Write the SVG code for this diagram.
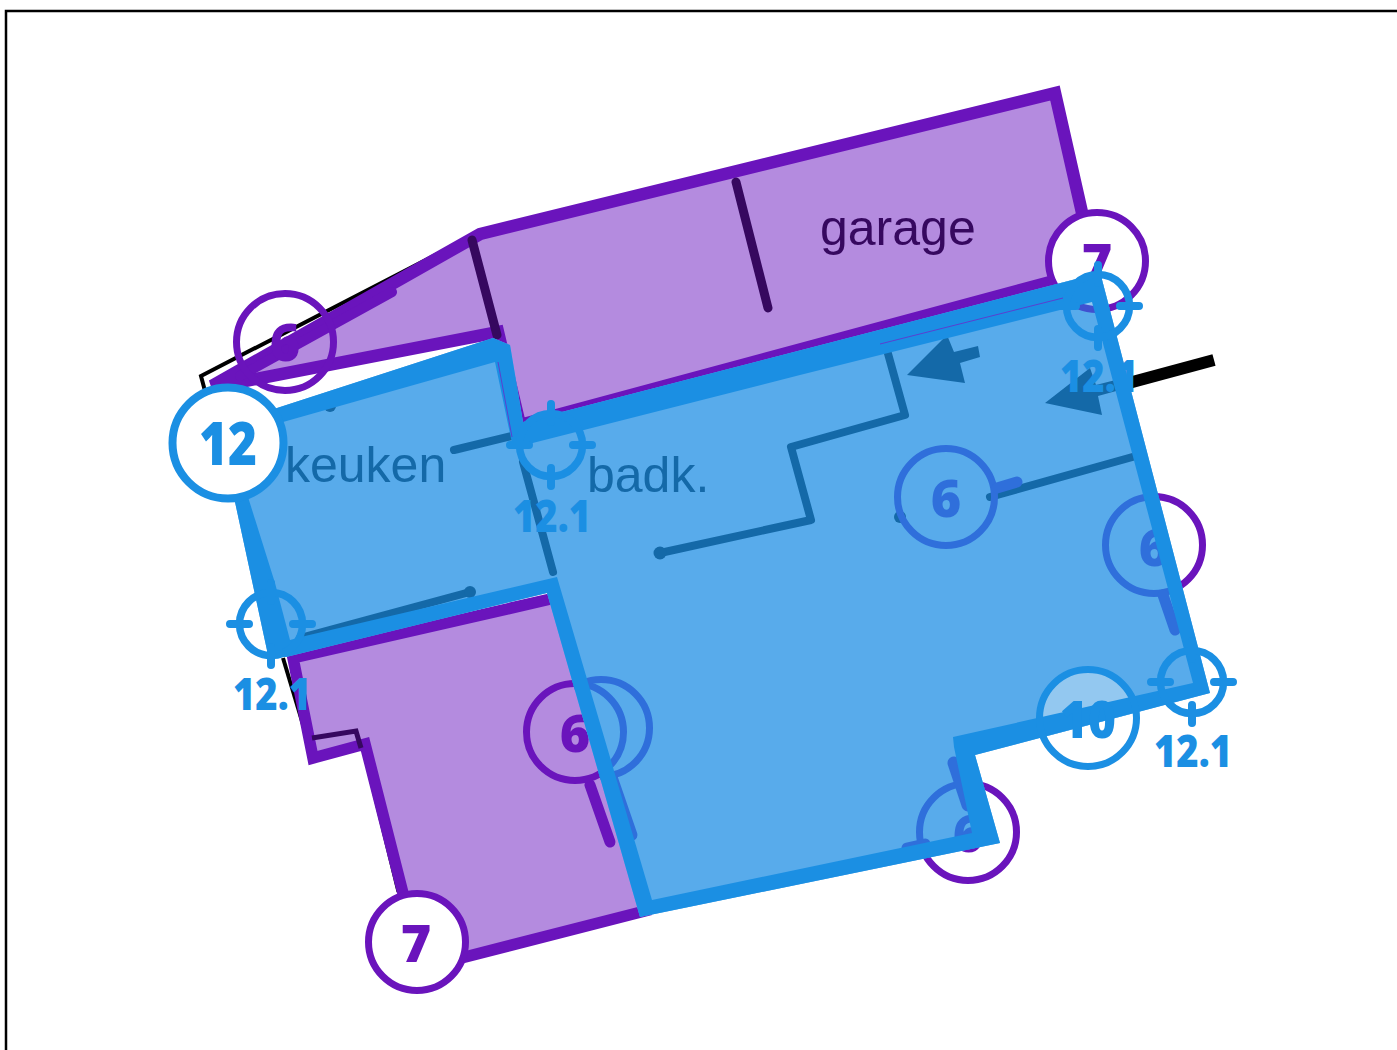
<svg xmlns="http://www.w3.org/2000/svg" width="1397" height="1050" viewBox="0 0 1397 1050">
<style>
.num{font-family:"Open Sans","Noto Sans",sans-serif;font-weight:800;text-anchor:middle}
.n6{font-size:52px}
.n121{font-size:45px;fill:#1b8fe3}
.lbl{font-family:"Liberation Sans",Arial,sans-serif;font-size:50px}
.ring{stroke-width:7;fill:none}
.pu{stroke:#6a14bc}.bl{stroke:#2f6fdb}
.puf{fill:#6a14bc}.blf{fill:#2f6fdb}
.wall{fill:none;stroke:#1469a8;stroke-width:8;stroke-linecap:round;stroke-linejoin:round}
.dwall{fill:none;stroke:#36085f;stroke-width:9;stroke-linecap:round;stroke-linejoin:round}
.stub{fill:none;stroke-width:11;stroke-linecap:round}
.cross{fill:none;stroke:#1b8fe3;stroke-width:7.5}
.cross path{stroke-linecap:round;stroke-width:8}
</style>
<defs>
<g id="crosshair" class="cross">
<circle r="31.5"/>
<path d="M0-41V-23M0 23V41M-41 0H-22M22 0H41"/>
</g>
<clipPath id="inBlue"><path d="M250,417 L277,408 L493,338 L510,345 L523,422 L1080,278 L1100,272 L1210,693 L975,755 L1000,843 L640,917 L547,593 L286,657 L268,655 L235,502 L225,470 Z"/></clipPath>
</defs>
<rect id="frame" x="6" y="11" width="1500" height="1100" fill="#fff" stroke="#000" stroke-width="2.5"/>

<g id="black-base" fill="none" stroke="#000">
<path d="M205,391 L201,376 L480,232" stroke-width="4"/>
<path d="M283,658 L307,738" stroke-width="4"/>
<path d="M362,745 L398,892" stroke-width="3"/>
<path d="M1125,384 L1214,360" stroke-width="12"/>
</g>

<g id="purple-areas" fill="#b48bdf" stroke="#6a14bc" stroke-width="12.5">
<path id="garage-area" d="M212,386 L480,234 L1055,93 L1095,270 L520,425 L498,332 L240,382 Z"/>
<path id="lower-area" d="M293,658 L555,598 L645,911 L422,968 L365,744 L313,758 Z" stroke-width="11.5"/>
</g>
<g id="purple-walls">
<path class="dwall" d="M736,182 L768,308"/>
<path class="dwall" d="M472,240 L497,335"/>
<path d="M312,738 L356,731 L361,748" fill="none" stroke="#36085f" stroke-width="5"/>
<path class="stub pu" d="M240,376 L392,292" style="stroke-width:10"/>
<path class="stub pu" d="M590,785 L610,842"/>
</g>
<g id="label-garage"><text class="lbl" x="820" y="245" fill="#36085f">garage</text></g>

<g id="purple-tags">
<circle class="ring pu" cx="285" cy="342" r="48.5"/>
<text class="num n6 puf" x="285" y="361">6</text>
<circle class="ring pu" cx="575" cy="732" r="48.5"/>
<text class="num n6 puf" x="575" y="752">6</text>
<circle class="ring pu" cx="1154" cy="545" r="48.5"/>
<circle class="ring pu" cx="968" cy="832" r="48.5"/>
<text class="num n6 puf" x="968" y="852">6</text>
<circle class="ring pu" cx="1097" cy="261" r="48.5" style="fill:#fff"/>
<text class="num n6 puf" x="1097" y="281">7</text>
</g>

<circle cx="1088" cy="718" r="49" fill="#fff"/>

<path id="blue-area" d="M250,417 L277,408 L493,338 L510,345 L523,422 L1080,278 L1100,272 L1210,693 L975,755 L1000,843 L640,917 L547,593 L286,657 L268,655 L235,502 L225,470 Z" fill="#58abeb"/>

<g id="inside-blue" clip-path="url(#inBlue)">
<circle cx="1097" cy="261" r="48.5" fill="#93c8f0" stroke="#4050d0" stroke-width="7"/>
<circle cx="1088" cy="718" r="49" fill="#93c8f0"/>
<path class="wall" d="M887,350 L905,415 L791,447 L811,520 L660,553"/>
<circle cx="660" cy="553" r="6.5" fill="#1469a8"/>
<path class="wall" d="M1136,456 L990,497"/>
<circle cx="900" cy="517" r="6" fill="#1469a8"/>
<path class="wall" d="M454,450 L520,434"/>
<path class="wall" d="M523,462 L553,572"/>
<path class="wall" d="M300,638 L470,592"/>
<circle cx="470" cy="592" r="6" fill="#1469a8"/>
<circle cx="330" cy="406" r="6" fill="#1469a8"/>
<path fill="#1469a8" d="M907,375 L947,335 L954,352 L978,346 L980,357 L960,363 L965,383 Z"/>
<path fill="#1469a8" d="M1045,403 L1090,368 L1096,385 L1135,375 L1138,385 L1098,396 L1102,415 Z"/>
<circle class="ring bl" cx="575" cy="732" r="48.5"/>
<circle class="ring bl" cx="601" cy="728" r="48.5"/>
<circle class="ring bl" cx="1154" cy="545" r="48.5"/>
<text class="num n6 blf" x="1154" y="566">6</text>
<circle class="ring bl" cx="968" cy="832" r="48.5"/>
<text class="num n6 blf" x="968" y="852">6</text>
<path class="stub bl" d="M612,777 L632,835"/>
<path class="stub bl" d="M1163,595 L1175,630"/>
<path class="stub bl" d="M954,763 L968,805" style="stroke-width:13"/>
<path class="stub bl" d="M907,848 L925,844"/>
</g>

<g id="node-6-centre">
<circle class="ring bl" cx="946" cy="497" r="48.5"/>
<text class="num n6 blf" x="946" y="517">6</text>
<path class="stub bl" d="M997,488 L1017,482"/>
</g>
<g id="labels-blue" fill="#1469a8">
<text class="lbl" x="285" y="482">keuken</text>
<text class="lbl" x="587" y="492">badk.</text>
</g>

<path id="blue-outline" fill="#1b8fe3" fill-rule="evenodd" d="M250,417 L277,408 L493,338 L510,345 L523,422 L1080,278 L1100,272 L1210,693 L975,755 L1000,843 L640,917 L547,593 L286,657 L268,655 L235,502 L225,470 Z M245,470 L283,422 L495,362 L513,448 L800,375 L1092,302 L1193,683 L953,737 L954,747 L972,833 L652,900 L557,577 L305,636 L290,640 L275,583 L248,497 Z"/>
<g id="thin-traces" fill="none" stroke="#5a40d0" stroke-width="1">
<path d="M880,344 L1063,298"/>
<path d="M498,362 L512,437"/>
</g>

<g id="node-10">
<circle cx="1088" cy="718" r="48.5" fill="none" stroke="#1b8fe3" stroke-width="7"/>
<text class="num" x="1088" y="738" font-size="52" fill="#1b8fe3" textLength="56" lengthAdjust="spacingAndGlyphs">10</text>
</g>

<g id="node-7-bottom">
<circle cx="417" cy="942" r="48.5" fill="#fff" stroke="#6a14bc" stroke-width="7"/>
<text class="num n6 puf" x="416" y="962">7</text>
</g>

<g id="crosshair-1"><use href="#crosshair" x="551" y="445"/><text class="num n121" x="552" y="532" textLength="78" lengthAdjust="spacingAndGlyphs">12.1</text></g>
<g id="crosshair-2"><use href="#crosshair" x="271" y="624"/><text class="num n121" x="272" y="710" textLength="78" lengthAdjust="spacingAndGlyphs">12.1</text></g>
<g id="crosshair-3"><use href="#crosshair" x="1098" y="306"/><text class="num n121" x="1099" y="392" textLength="78" lengthAdjust="spacingAndGlyphs">12.1</text></g>
<g id="crosshair-4"><use href="#crosshair" x="1192" y="682"/><text class="num n121" x="1193" y="767" textLength="78" lengthAdjust="spacingAndGlyphs">12.1</text></g>

<g id="node-12">
<circle cx="228" cy="443" r="55.5" fill="#fff" stroke="#1b8fe3" stroke-width="8"/>
<text class="num" x="228" y="465" font-size="60" fill="#1b8fe3" textLength="58" lengthAdjust="spacingAndGlyphs">12</text>
</g>
</svg>
